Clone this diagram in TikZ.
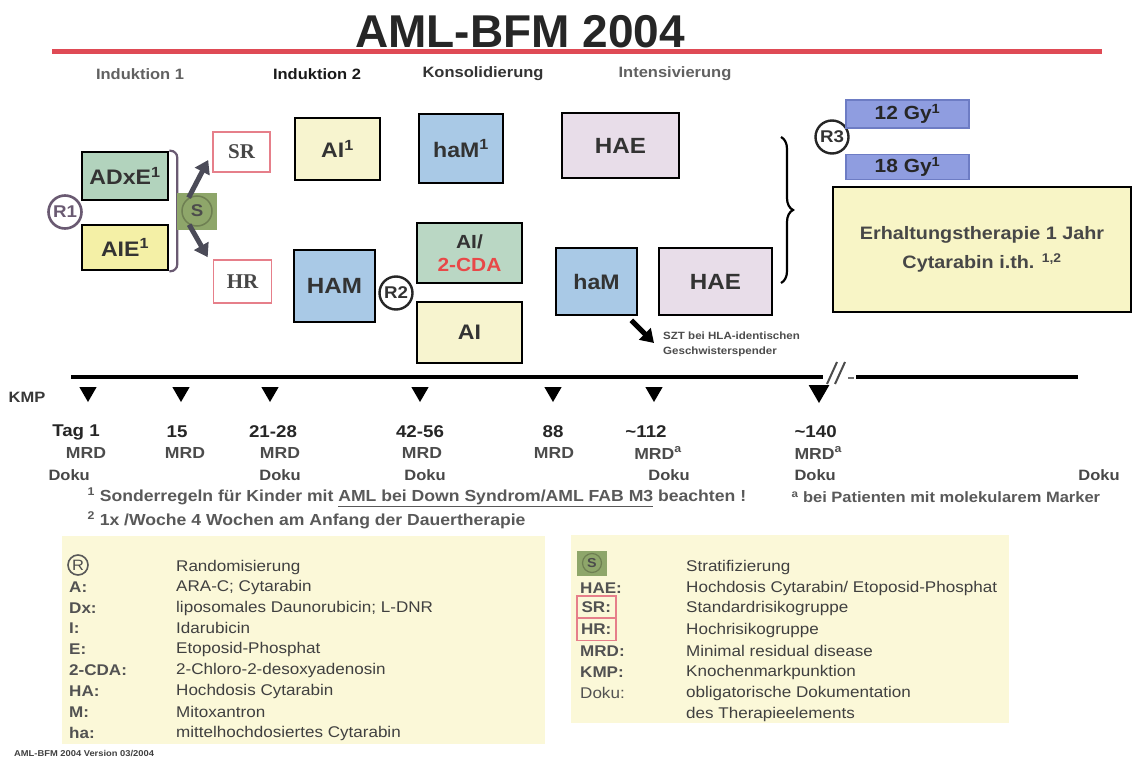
\documentclass[tikz,border=0pt]{standalone}
\usepackage{fontspec}
\setmainfont{Liberation Sans}[FakeStretch=1.1]
\newfontfamily\titlefont{Liberation Sans}
\newfontfamily\serifb{Liberation Serif}
\usetikzlibrary{shapes.geometric,arrows.meta,decorations.pathreplacing,calc}
\definecolor{grn}{HTML}{B2D3BD}
\definecolor{grnb}{HTML}{BAD7C4}
\definecolor{yel}{HTML}{F4F0A6}
\definecolor{pyel}{HTML}{F7F4CF}
\definecolor{blu}{HTML}{A9C9E6}
\definecolor{lav}{HTML}{E8DDE9}
\definecolor{gyf}{HTML}{8F9DE0}
\definecolor{gyd}{HTML}{6D7CC4}
\definecolor{erh}{HTML}{F8F5C6}
\definecolor{leg}{HTML}{FBF8D8}
\definecolor{sgreen}{HTML}{8EA66A}
\definecolor{sdark}{HTML}{6E7F52}
\definecolor{pinkr}{HTML}{E67F8A}
\definecolor{redline}{HTML}{DF4A55}
\definecolor{cdared}{HTML}{E84848}
\definecolor{brk}{HTML}{6A5A72}
\definecolor{arr}{HTML}{4B4B58}
\tikzset{
  bx/.style={draw=black, line width=2.6pt, inner sep=0pt, align=center, text=black!80,
    font=\bfseries\fontsize{21}{24}\selectfont},
  rbox/.style={draw=pinkr, line width=1.6pt, fill=white, inner sep=0pt, text=black!72,
    font=\serifb\bfseries\fontsize{21}{22}\selectfont},
  gybox/.style={draw=gyd, line width=1.2pt, fill=gyf, inner sep=0pt, text=black!85,
    font=\bfseries\fontsize{19}{20}\selectfont, minimum width=123},
  rcirc/.style={circle, draw=black!85, line width=2.4pt, fill=white, inner sep=0pt, minimum size=33,
    text=black!80, font=\bfseries\fontsize{17}{18}\selectfont},
  phase/.style={font=\bfseries\fontsize{15}{17}\selectfont, text=black!62},
  sarr/.style={draw=arr, line width=5pt, -{Triangle[length=13pt,width=16pt]}},
  tline/.style={line width=3.8pt, draw=black},
  tri/.style={regular polygon, regular polygon sides=3, shape border rotate=180, fill=black,
    inner sep=0pt, minimum size=20pt},
  dayl/.style={font=\bfseries\fontsize{17}{18}\selectfont, text=black!85},
  mrdl/.style={font=\bfseries\fontsize{16}{17}\selectfont, text=black!70},
  dokul/.style={font=\bfseries\fontsize{15}{16}\selectfont, text=black!72},
  fnl/.style={anchor=west, font=\bfseries\fontsize{16}{17}\selectfont, text=black!65},
  legk/.style={anchor=west, font=\bfseries\fontsize{15.5}{16}\selectfont, text=black!68, inner sep=0pt},
  legv/.style={anchor=west, font=\fontsize{15.5}{16}\selectfont, text=black!75, inner sep=0pt},
}
\begin{document}
\begin{tikzpicture}[x=1pt,y=-1pt]
\useasboundingbox (0,0) rectangle (1134,760);
\fill[white] (0,0) rectangle (1134,760);

% title
\node[font=\titlefont\bfseries\fontsize{46}{50}\selectfont, text=black!85, inner sep=0pt] (title) at (520,31.5) {AML-BFM 2004};
\coordinate (rl0) at (52,52);
\coordinate (rl1) at (1102,52);
\draw[line width=5pt, redline] (rl0) -- (rl1);

% phase headers
\node[phase] (p1) at (140,74) {Induktion 1};
\node[phase, text=black!90] (p2) at (317,74) {Induktion 2};
\node[phase, text=black!80] (p3) at (483,74) {Konsolidierung};
\node[phase] (p4) at (675,74) {Intensivierung};

% induction 1
\node[bx, fill=grn, minimum width=86, minimum height=48] (ADxE) at (125,176) {ADxE\textsuperscript{1}};
\node[bx, fill=yel, minimum width=86, minimum height=45] (AIE) at (125,247.5) {AIE\textsuperscript{1}};
\draw[brk, line width=2.2pt, rounded corners=7pt] (ADxE.north east) -- ++(8,0) |- (AIE.south east);
\node[rcirc, draw=brk, text=brk, line width=2.6pt] (R1) at (65,212) {R1};

% stratification
\node[fill=sgreen, minimum width=40, minimum height=37, inner sep=0pt] (Ssq) at (197,211.5) {};
\node[circle, draw=sdark, line width=1.5pt, minimum size=30, inner sep=0pt,
      font=\bfseries\fontsize{17}{18}\selectfont, text=black!70] (Sc) at (197,211) {S};
\node[rbox, minimum width=57, minimum height=40] (SR) at (241.5,152) {SR};
\node[rbox, minimum width=58, minimum height=43] (HR) at (242.5,281.5) {HR};
\draw[sarr] (Sc.122) -- ([xshift=-4pt,yshift=-8pt]SR.west);
\draw[sarr] (Sc.240) -- ([xshift=-5pt,yshift=2pt]HR.north west);

% induction 2 / consolidation / intensification
\node[bx, fill=pyel, minimum width=85, minimum height=62] (AI1) at (337.5,149) {AI\textsuperscript{1}};
\node[bx, fill=blu, minimum width=84, minimum height=69] (haM1) at (461,148.5) {haM\textsuperscript{1}};
\node[bx, fill=lav, minimum width=117, minimum height=65, font=\bfseries\fontsize{22}{24}\selectfont] (HAE1) at (620.5,145.5) {HAE};
\node[bx, fill=blu, minimum width=81, minimum height=72, font=\bfseries\fontsize{22}{24}\selectfont] (HAM) at (334.5,286) {HAM};
\node[rcirc] (R2) at (396,293) {R2};
\node[bx, fill=grnb, minimum width=105, minimum height=60, font=\bfseries\fontsize{19}{23}\selectfont] (AICDA) at (469.5,253) {AI/\\\textcolor{cdared}{2-CDA}};
\node[bx, fill=pyel, minimum width=105, minimum height=61] (AI2) at (469.5,332.5) {AI};
\node[bx, fill=blu, minimum width=81, minimum height=67] (haM2) at (596.5,281.5) {haM};
\node[bx, fill=lav, minimum width=113, minimum height=67, font=\bfseries\fontsize{22}{24}\selectfont] (HAE2) at (715.5,281.5) {HAE};

% SZT
\node[anchor=north west, align=left, inner sep=0pt, font=\bfseries\fontsize{10.5}{15}\selectfont, text=black!70] (SZT) at (663,332) {SZT bei HLA-identischen\\Geschwisterspender};
\draw[line width=5pt, -{Triangle[length=13pt,width=16pt]}] ([xshift=-7pt,yshift=-4pt]haM2.south east) -- ([xshift=-9pt,yshift=-11pt]SZT.north west);

% brace
\coordinate (brT) at (781,137);
\coordinate (brB) at (781,283);
\draw[decorate, decoration={brace, amplitude=12pt}, line width=2.2pt] (brT) -- (brB);

% maintenance
\node[rcirc] (R3) at (832,137) {R3};
\node[gybox, minimum height=28] (G12) at (907.5,114) {12 Gy\textsuperscript{1}};
\node[gybox, minimum height=25] (G18) at (907.5,167) {18 Gy\textsuperscript{1}};
\node[bx, fill=erh, minimum width=298, minimum height=125, text=black!72,
      font=\bfseries\fontsize{18}{29}\selectfont] (ERH) at (982,249.5) {Erhaltungstherapie 1 Jahr\\Cytarabin i.th. \textsuperscript{1,2}};

% timeline
\coordinate (tl0) at (71,377);
\coordinate (tl1) at (823,377);
\coordinate (tl2) at (856,377);
\coordinate (tl3) at (1078,377);
\draw[tline] (tl0) -- (tl1);
\draw[tline] (tl2) -- (tl3);
\coordinate (s1a) at (827,384);
\coordinate (s1b) at (837,362);
\coordinate (s2a) at (835,384);
\coordinate (s2b) at (845,362);
\coordinate (dsa) at (848,378);
\coordinate (dsb) at (854,378);
\draw[line width=2pt, black!70] (s1a) -- (s1b);
\draw[line width=2pt, black!70] (s2a) -- (s2b);
\draw[line width=2.5pt, black!55] (dsa) -- (dsb);

\node[font=\bfseries\fontsize{15}{16}\selectfont, text=black!78, inner sep=0pt] (KMP) at (27,397) {KMP};
\node[tri] (t1) at (88,392) {};
\node[tri] (t2) at (181,392) {};
\node[tri] (t3) at (270,392) {};
\node[tri] (t4) at (420,392) {};
\node[tri] (t5) at (553,392) {};
\node[tri] (t6) at (654,392) {};
\node[tri, minimum size=24pt] (t7) at (819,391) {};

\node[dayl] (d1) at (76,432) {Tag 1};
\node[dayl] (d2) at (177,432) {15};
\node[dayl] (d3) at (273,432) {21-28};
\node[dayl] (d4) at (420,432) {42-56};
\node[dayl] (d5) at (553,432) {88};
\node[dayl] (d6) at (646,432) {\textasciitilde112};
\node[dayl, anchor=west] (d7) at (791,432) {\textasciitilde140};

\node[mrdl] (m1) at (86,453) {MRD};
\node[mrdl] (m2) at (185,453) {MRD};
\node[mrdl] (m3) at (280,453) {MRD};
\node[mrdl] (m4) at (422,453) {MRD};
\node[mrdl] (m5) at (554,453) {MRD};
\node[mrdl] (m6) at (658,453) {MRD\textsuperscript{a}};
\node[mrdl, anchor=west] (m7) at (791,453) {MRD\textsuperscript{a}};

\node[dokul, anchor=west] (k1) at (45,475) {Doku};
\node[dokul] (k2) at (280,475) {Doku};
\node[dokul] (k3) at (425,475) {Doku};
\node[dokul] (k4) at (669,475) {Doku};
\node[dokul, anchor=west] (k5) at (791,475) {Doku};
\node[dokul] (k6) at (1099,475) {Doku};

\node[fnl] (fn1) at (84,497) {\textsuperscript{1} Sonderregeln für Kinder mit \underline{AML bei Down Syndrom/AML FAB M3} beachten !};
\node[fnl] (fn2) at (84,520) {\textsuperscript{2} 1x /Woche 4 Wochen am Anfang der Dauertherapie};
\node[fnl, font=\bfseries\fontsize{15}{16}\selectfont] (fna) at (788,497) {\textsuperscript{a} bei Patienten mit molekularem Marker};

% legend left
\node[fill=leg, minimum width=483, minimum height=208, inner sep=0pt] (legL) at (303.5,639.5) {};
\node[circle, draw=black!65, line width=1.6pt, minimum size=20, inner sep=0pt, text=black!70,
      font=\fontsize{15}{16}\selectfont] (lk1) at (78,565) {R};
\node[legv] (lv1) at (176,567) {Randomisierung};
\node[legk] (lk2) at (69,587) {A:};
\node[legv] (lv2) at (176,587) {ARA-C; Cytarabin};
\node[legk] (lk3) at (69,608) {Dx:};
\node[legv] (lv3) at (176,608) {liposomales Daunorubicin; L-DNR};
\node[legk] (lk4) at (69,628) {I:};
\node[legv] (lv4) at (176,628) {Idarubicin};
\node[legk] (lk5) at (69,649) {E:};
\node[legv] (lv5) at (176,649) {Etoposid-Phosphat};
\node[legk] (lk6) at (69,670) {2-CDA:};
\node[legv] (lv6) at (176,670) {2-Chloro-2-desoxyadenosin};
\node[legk] (lk7) at (69,691) {HA:};
\node[legv] (lv7) at (176,691) {Hochdosis Cytarabin};
\node[legk] (lk8) at (69,712) {M:};
\node[legv] (lv8) at (176,712) {Mitoxantron};
\node[legk] (lk9) at (69,733) {ha:};
\node[legv] (lv9) at (176,733) {mittelhochdosiertes Cytarabin};

% legend right
\node[fill=leg, minimum width=438, minimum height=188, inner sep=0pt] (legR) at (790,629) {};
\node[fill=sgreen, minimum width=30, minimum height=25, inner sep=0pt] (rk1s) at (592,563) {};
\node[circle, draw=sdark, line width=1.2pt, minimum size=19, inner sep=0pt, text=black!70,
      font=\bfseries\fontsize{13}{14}\selectfont] (rk1) at (592,563) {S};
\node[legv] (rv1) at (686,567) {Stratifizierung};
\node[legk] (rk2) at (580,588) {HAE:};
\node[legv] (rv2) at (686,588) {Hochdosis Cytarabin/ Etoposid-Phosphat};
\node[legk, draw=pinkr, line width=1.5pt, minimum width=39, minimum height=22, inner xsep=2pt] (rk3) at (576,607) {SR:};
\node[legv] (rv3) at (686,608) {Standardrisikogruppe};
\node[legk, draw=pinkr, line width=1.5pt, minimum width=39, minimum height=23, inner xsep=2pt] (rk4) at (576,629) {HR:};
\node[legv] (rv4) at (686,630) {Hochrisikogruppe};
\node[legk] (rk5) at (580,651) {MRD:};
\node[legv] (rv5) at (686,651) {Minimal residual disease};
\node[legk] (rk6) at (580,672) {KMP:};
\node[legv] (rv6) at (686,672) {Knochenmarkpunktion};
\node[legk, font=\fontsize{15.5}{16}\selectfont] (rk7) at (580,693) {Doku:};
\node[legv] (rv7) at (686,693) {obligatorische Dokumentation};
\node[legv] (rv8) at (686,714) {des Therapieelements};

% footer
\node[anchor=west, inner sep=0pt, font=\bfseries\fontsize{8.5}{9}\selectfont, text=black!75] (foot) at (14,753) {AML-BFM 2004 Version 03/2004};
\end{tikzpicture}
\end{document}
